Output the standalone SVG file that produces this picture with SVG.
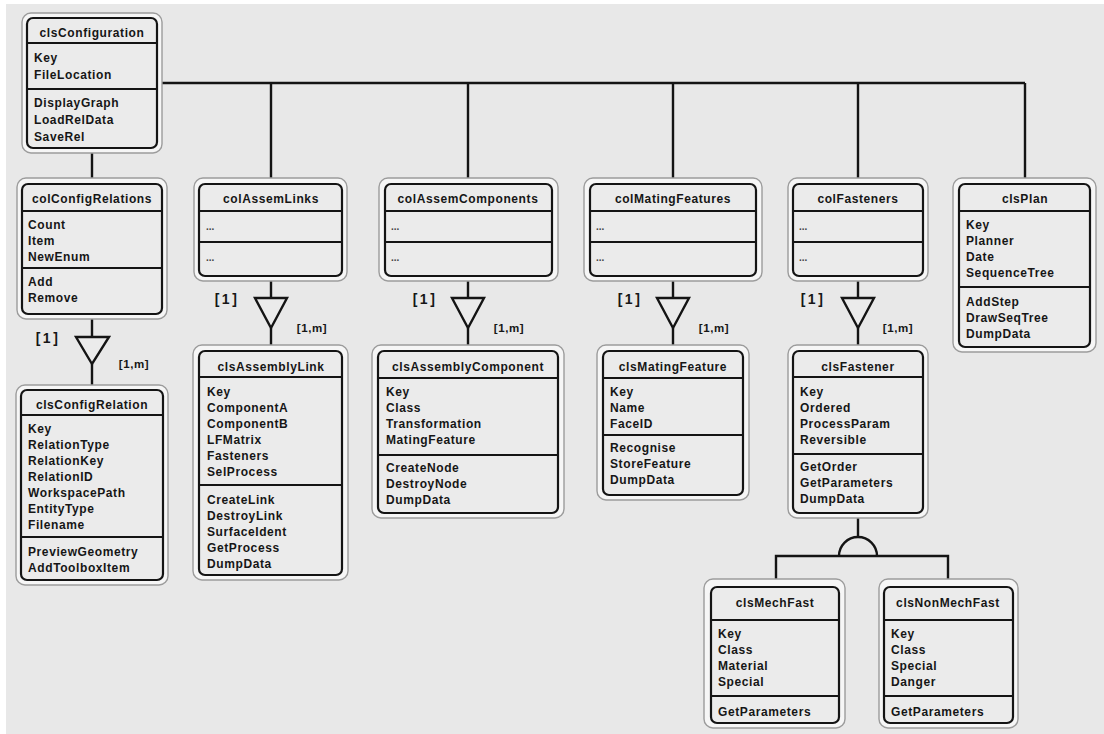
<svg xmlns="http://www.w3.org/2000/svg" width="1104" height="734" viewBox="0 0 1104 734">
  <style>
    .frame { fill: #f6f6f6; stroke: #9c9c9c; stroke-width: 1.4; }
    .box { fill: #ebebeb; stroke: #141414; stroke-width: 2.2; }
    .div { stroke: #141414; stroke-width: 2; }
    .wire { fill: none; stroke: #141414; stroke-width: 2.4; }
    .agg { fill: #ebebeb; stroke: #141414; stroke-width: 2.4; stroke-linejoin: miter; }
    text { font-family: "Liberation Sans", Arial, sans-serif; font-weight: bold; fill: #161616; }
    .t { font-size: 12px; letter-spacing: 0.6px; }
    .title { font-size: 12px; letter-spacing: 0.6px; text-anchor: middle; }
    .dots { font-size: 10px; fill: #444; }
    .one { font-size: 14px; letter-spacing: 2.5px; text-anchor: middle; }
    .many { font-size: 11.5px; letter-spacing: 0.6px; text-anchor: middle; }
  </style>

  <!-- canvas -->
  <rect x="0" y="0" width="1104" height="734" fill="#ffffff"/>
  <rect x="6" y="4" width="1098" height="730" fill="#e8e8e8"/>

  <!-- connectors -->
  <g id="connectors">
    <!-- configuration bus -->
    <path class="wire" d="M162 83 H1025 M271 83 V178 M468 83 V178 M673 83 V178 M858 83 V178 M1025 83 V178 M92 153 V178"/>
    <!-- aggregations -->
    <path class="wire" d="M92 319 V337 M92 364 V385"/>
    <polygon class="agg" points="76,337 109,337 92,364"/>
    <path class="wire" d="M271 281 V298 M271 328 V345"/>
    <polygon class="agg" points="255,298 287,298 271,328"/>
    <path class="wire" d="M468 281 V298 M468 328 V345"/>
    <polygon class="agg" points="452,298 484,298 468,328"/>
    <path class="wire" d="M673 281 V298 M673 328 V345"/>
    <polygon class="agg" points="657,298 689,298 673,328"/>
    <path class="wire" d="M858 281 V298 M858 328 V345"/>
    <polygon class="agg" points="842,298 874,298 858,328"/>
    <!-- multiplicities -->
    <text class="one" x="48" y="343">[1]</text>
    <text class="many" x="134" y="368">[1,m]</text>
    <text class="one" x="227" y="304">[1]</text>
    <text class="many" x="312" y="332">[1,m]</text>
    <text class="one" x="425" y="304">[1]</text>
    <text class="many" x="509" y="332">[1,m]</text>
    <text class="one" x="630" y="304">[1]</text>
    <text class="many" x="714" y="332">[1,m]</text>
    <text class="one" x="813" y="304">[1]</text>
    <text class="many" x="898" y="332">[1,m]</text>
    <!-- specialisation of clsFastener -->
    <path class="wire" d="M858 518 V537"/>
    <path class="wire" d="M839 556 A19 19 0 0 1 877 556"/>
    <path class="wire" d="M776 579 V556 H948 V579"/>
  </g>

  <!-- clsConfiguration -->
  <g id="clsConfiguration">
    <rect class="frame" x="22" y="13" width="140" height="140" rx="9"/>
    <rect class="box" x="27" y="18" width="130" height="130" rx="6"/>
    <line class="div" x1="27" y1="43" x2="157" y2="43"/>
    <line class="div" x1="27" y1="89" x2="157" y2="89"/>
    <text class="title" x="92" y="37">clsConfiguration</text>
    <text class="t" x="34" y="62">Key</text>
    <text class="t" x="34" y="79">FileLocation</text>
    <text class="t" x="34" y="107">DisplayGraph</text>
    <text class="t" x="34" y="124">LoadRelData</text>
    <text class="t" x="34" y="141">SaveRel</text>
  </g>

  <!-- colConfigRelations -->
  <g id="colConfigRelations">
    <rect class="frame" x="17" y="178" width="150" height="141" rx="9"/>
    <rect class="box" x="22" y="184" width="140" height="130" rx="6"/>
    <line class="div" x1="22" y1="211" x2="162" y2="211"/>
    <line class="div" x1="22" y1="268" x2="162" y2="268"/>
    <text class="title" x="92" y="203">colConfigRelations</text>
    <text class="t" x="28" y="229">Count</text>
    <text class="t" x="28" y="245">Item</text>
    <text class="t" x="28" y="261">NewEnum</text>
    <text class="t" x="28" y="286">Add</text>
    <text class="t" x="28" y="302">Remove</text>
  </g>

  <!-- colAssemLinks -->
  <g id="colAssemLinks">
    <rect class="frame" x="194" y="178" width="153" height="103" rx="9"/>
    <rect class="box" x="199" y="184" width="143" height="92" rx="6"/>
    <line class="div" x1="199" y1="211" x2="342" y2="211"/>
    <line class="div" x1="199" y1="242" x2="342" y2="242"/>
    <text class="title" x="271" y="203">colAssemLinks</text>
    <text class="dots" x="206" y="230">...</text>
    <text class="dots" x="206" y="261">...</text>
  </g>

  <!-- colAssemComponents -->
  <g id="colAssemComponents">
    <rect class="frame" x="379" y="178" width="179" height="103" rx="9"/>
    <rect class="box" x="385" y="184" width="167" height="92" rx="6"/>
    <line class="div" x1="385" y1="211" x2="552" y2="211"/>
    <line class="div" x1="385" y1="242" x2="552" y2="242"/>
    <text class="title" x="468" y="203">colAssemComponents</text>
    <text class="dots" x="391" y="230">...</text>
    <text class="dots" x="391" y="261">...</text>
  </g>

  <!-- colMatingFeatures -->
  <g id="colMatingFeatures">
    <rect class="frame" x="584" y="178" width="178" height="103" rx="9"/>
    <rect class="box" x="590" y="184" width="166" height="92" rx="6"/>
    <line class="div" x1="590" y1="211" x2="756" y2="211"/>
    <line class="div" x1="590" y1="242" x2="756" y2="242"/>
    <text class="title" x="673" y="203">colMatingFeatures</text>
    <text class="dots" x="596" y="230">...</text>
    <text class="dots" x="596" y="261">...</text>
  </g>

  <!-- colFasteners -->
  <g id="colFasteners">
    <rect class="frame" x="788" y="178" width="140" height="103" rx="9"/>
    <rect class="box" x="793" y="184" width="130" height="92" rx="6"/>
    <line class="div" x1="793" y1="211" x2="923" y2="211"/>
    <line class="div" x1="793" y1="242" x2="923" y2="242"/>
    <text class="title" x="858" y="203">colFasteners</text>
    <text class="dots" x="799" y="230">...</text>
    <text class="dots" x="799" y="261">...</text>
  </g>

  <!-- clsPlan -->
  <g id="clsPlan">
    <rect class="frame" x="953" y="178" width="143" height="174" rx="9"/>
    <rect class="box" x="959" y="184" width="131" height="163" rx="6"/>
    <line class="div" x1="959" y1="211" x2="1090" y2="211"/>
    <line class="div" x1="959" y1="287" x2="1090" y2="287"/>
    <text class="title" x="1025" y="203">clsPlan</text>
    <text class="t" x="966" y="229">Key</text>
    <text class="t" x="966" y="245">Planner</text>
    <text class="t" x="966" y="261">Date</text>
    <text class="t" x="966" y="277">SequenceTree</text>
    <text class="t" x="966" y="306">AddStep</text>
    <text class="t" x="966" y="322">DrawSeqTree</text>
    <text class="t" x="966" y="338">DumpData</text>
  </g>

  <!-- clsConfigRelation -->
  <g id="clsConfigRelation">
    <rect class="frame" x="16" y="385" width="152" height="200" rx="9"/>
    <rect class="box" x="21" y="390" width="142" height="190" rx="6"/>
    <line class="div" x1="21" y1="415" x2="163" y2="415"/>
    <line class="div" x1="21" y1="537" x2="163" y2="537"/>
    <text class="title" x="92" y="409">clsConfigRelation</text>
    <text class="t" x="28" y="433">Key</text>
    <text class="t" x="28" y="449">RelationType</text>
    <text class="t" x="28" y="465">RelationKey</text>
    <text class="t" x="28" y="481">RelationID</text>
    <text class="t" x="28" y="497">WorkspacePath</text>
    <text class="t" x="28" y="513">EntityType</text>
    <text class="t" x="28" y="529">Filename</text>
    <text class="t" x="28" y="556">PreviewGeometry</text>
    <text class="t" x="28" y="572">AddToolboxItem</text>
  </g>

  <!-- clsAssemblyLink -->
  <g id="clsAssemblyLink">
    <rect class="frame" x="193" y="345" width="155" height="235" rx="9"/>
    <rect class="box" x="199" y="351" width="143" height="224" rx="6"/>
    <line class="div" x1="199" y1="377" x2="342" y2="377"/>
    <line class="div" x1="199" y1="485" x2="342" y2="485"/>
    <text class="title" x="271" y="371">clsAssemblyLink</text>
    <text class="t" x="207" y="396">Key</text>
    <text class="t" x="207" y="412">ComponentA</text>
    <text class="t" x="207" y="428">ComponentB</text>
    <text class="t" x="207" y="444">LFMatrix</text>
    <text class="t" x="207" y="460">Fasteners</text>
    <text class="t" x="207" y="476">SelProcess</text>
    <text class="t" x="207" y="504">CreateLink</text>
    <text class="t" x="207" y="520">DestroyLink</text>
    <text class="t" x="207" y="536">SurfaceIdent</text>
    <text class="t" x="207" y="552">GetProcess</text>
    <text class="t" x="207" y="568">DumpData</text>
  </g>

  <!-- clsAssemblyComponent -->
  <g id="clsAssemblyComponent">
    <rect class="frame" x="372" y="345" width="192" height="173" rx="9"/>
    <rect class="box" x="378" y="351" width="180" height="162" rx="6"/>
    <line class="div" x1="378" y1="378" x2="558" y2="378"/>
    <line class="div" x1="378" y1="455" x2="558" y2="455"/>
    <text class="title" x="468" y="371">clsAssemblyComponent</text>
    <text class="t" x="386" y="396">Key</text>
    <text class="t" x="386" y="412">Class</text>
    <text class="t" x="386" y="428">Transformation</text>
    <text class="t" x="386" y="444">MatingFeature</text>
    <text class="t" x="386" y="472">CreateNode</text>
    <text class="t" x="386" y="488">DestroyNode</text>
    <text class="t" x="386" y="504">DumpData</text>
  </g>

  <!-- clsMatingFeature -->
  <g id="clsMatingFeature">
    <rect class="frame" x="597" y="345" width="152" height="155" rx="9"/>
    <rect class="box" x="603" y="351" width="140" height="144" rx="6"/>
    <line class="div" x1="603" y1="378" x2="743" y2="378"/>
    <line class="div" x1="603" y1="435" x2="743" y2="435"/>
    <text class="title" x="673" y="371">clsMatingFeature</text>
    <text class="t" x="610" y="396">Key</text>
    <text class="t" x="610" y="412">Name</text>
    <text class="t" x="610" y="428">FaceID</text>
    <text class="t" x="610" y="452">Recognise</text>
    <text class="t" x="610" y="468">StoreFeature</text>
    <text class="t" x="610" y="484">DumpData</text>
  </g>

  <!-- clsFastener -->
  <g id="clsFastener">
    <rect class="frame" x="788" y="345" width="140" height="173" rx="9"/>
    <rect class="box" x="793" y="351" width="130" height="162" rx="6"/>
    <line class="div" x1="793" y1="377" x2="923" y2="377"/>
    <line class="div" x1="793" y1="454" x2="923" y2="454"/>
    <text class="title" x="858" y="371">clsFastener</text>
    <text class="t" x="800" y="396">Key</text>
    <text class="t" x="800" y="412">Ordered</text>
    <text class="t" x="800" y="428">ProcessParam</text>
    <text class="t" x="800" y="444">Reversible</text>
    <text class="t" x="800" y="471">GetOrder</text>
    <text class="t" x="800" y="487">GetParameters</text>
    <text class="t" x="800" y="503">DumpData</text>
  </g>

  <!-- clsMechFast -->
  <g id="clsMechFast">
    <rect class="frame" x="704" y="579" width="141" height="149" rx="9"/>
    <rect class="box" x="711" y="587" width="128" height="136" rx="6"/>
    <line class="div" x1="711" y1="620" x2="839" y2="620"/>
    <line class="div" x1="711" y1="696" x2="839" y2="696"/>
    <text class="title" x="775" y="607">clsMechFast</text>
    <text class="t" x="718" y="638">Key</text>
    <text class="t" x="718" y="654">Class</text>
    <text class="t" x="718" y="670">Material</text>
    <text class="t" x="718" y="686">Special</text>
    <text class="t" x="718" y="716">GetParameters</text>
  </g>

  <!-- clsNonMechFast -->
  <g id="clsNonMechFast">
    <rect class="frame" x="879" y="579" width="139" height="149" rx="9"/>
    <rect class="box" x="884" y="587" width="129" height="136" rx="6"/>
    <line class="div" x1="884" y1="620" x2="1013" y2="620"/>
    <line class="div" x1="884" y1="696" x2="1013" y2="696"/>
    <text class="title" x="948" y="607">clsNonMechFast</text>
    <text class="t" x="891" y="638">Key</text>
    <text class="t" x="891" y="654">Class</text>
    <text class="t" x="891" y="670">Special</text>
    <text class="t" x="891" y="686">Danger</text>
    <text class="t" x="891" y="716">GetParameters</text>
  </g>
</svg>
